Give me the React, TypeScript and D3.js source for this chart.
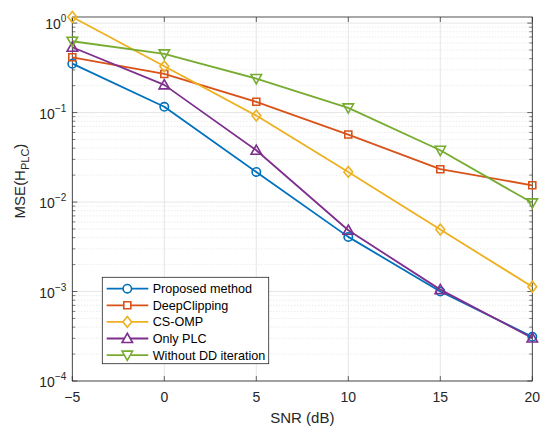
import React, { useEffect, useRef } from 'react';
import * as d3 from 'd3';

const snr = [-5, 0, 5, 10, 15, 20];
const proposed = [0.352, 0.116, 0.0217, 0.00408, 0.00100, 0.000312];
const deepClipping = [0.415, 0.27, 0.132, 0.0568, 0.0233, 0.0154];
const csOmp = [1.17, 0.329, 0.0925, 0.0217, 0.00493, 0.00113];
const onlyPlc = [0.537, 0.204, 0.0379, 0.00484, 0.00105, 0.000302];
const withoutDD = [0.627, 0.453, 0.24, 0.113, 0.0379, 0.0098];

const seriesNames = ['Proposed method', 'DeepClipping', 'CS-OMP', 'Only PLC', 'Without DD iteration'];
const seriesValues = [proposed, deepClipping, csOmp, onlyPlc, withoutDD];
const seriesColors = ['#0072BD', '#D95319', '#EDB120', '#7E2F8E', '#77AC30'];
const seriesMarkers = ['circle', 'square', 'diamond', 'triUp', 'triDown'];

const xTicks = [-5, 0, 5, 10, 15, 20];
const yDecades = [-4, -3, -2, -1, 0];

const FONT = 'Liberation Sans, Arial, Helvetica, sans-serif';

function markerPath(kind: string, s: number): string {
  switch (kind) {
    case 'circle':
      return `M${s},0A${s},${s} 0 1,1 ${-s},0A${s},${s} 0 1,1 ${s},0Z`;
    case 'square':
      return `M${-s},${-s}H${s}V${s}H${-s}Z`;
    case 'diamond':
      return `M0,${-s * 1.35}L${s * 1.1},0L0,${s * 1.35}L${-s * 1.1},0Z`;
    case 'triUp':
      return `M0,${-s * 1.25}L${s * 1.25},${s * 0.95}L${-s * 1.25},${s * 0.95}Z`;
    default:
      return `M0,${s * 1.25}L${s * 1.25},${-s * 0.95}L${-s * 1.25},${-s * 0.95}Z`;
  }
}

const markerSize: Record<string, number> = { circle: 4.2, square: 3.5, diamond: 4, triUp: 4.2, triDown: 4.2 };

const App: React.FC = () => {
  const svgRef = useRef<SVGSVGElement>(null);

  useEffect(() => {
    document.body.style.margin = '0';
    if (!svgRef.current) return;
    const svg = d3.select(svgRef.current);
    svg.selectAll('*').remove();

    const left = 72.3, right = 532.3, top = 17, bottom = 381;
    const width = right - left;
    const height = bottom - top;

    const x = d3.scaleLinear().domain([-5, 20]).range([0, width]);
    const y = d3.scaleLog().domain([1e-4, 1.17]).range([height, 0]);

    const g = svg.append('g').attr('transform', `translate(${left},${top})`);

    g.append('rect').attr('width', width).attr('height', height).attr('fill', '#fff');

    // minor grid (dotted)
    const minors: number[] = [];
    yDecades.forEach(d => {
      for (let k = 2; k <= 9; k++) {
        const v = k * Math.pow(10, d);
        if (v <= 1.17) minors.push(v);
      }
    });
    g.selectAll('.minor-grid')
      .data(minors)
      .enter()
      .append('line')
      .attr('x1', 0)
      .attr('x2', width)
      .attr('y1', d => y(d))
      .attr('y2', d => y(d))
      .attr('stroke', '#d0d0d0')
      .attr('stroke-width', 0.6)
      .attr('stroke-dasharray', '1,2');

    // major grid
    g.selectAll('.grid-y')
      .data(yDecades.map(d => Math.pow(10, d)))
      .enter()
      .append('line')
      .attr('x1', 0)
      .attr('x2', width)
      .attr('y1', d => y(d))
      .attr('y2', d => y(d))
      .attr('stroke', '#e0e0e0')
      .attr('stroke-width', 0.8);

    g.selectAll('.grid-x')
      .data(xTicks)
      .enter()
      .append('line')
      .attr('x1', d => x(d))
      .attr('x2', d => x(d))
      .attr('y1', 0)
      .attr('y2', height)
      .attr('stroke', '#e0e0e0')
      .attr('stroke-width', 0.8);

    // ticks (inside, all four sides)
    const axisColor = '#262626';
    xTicks.forEach(t => {
      g.append('line').attr('x1', x(t)).attr('x2', x(t)).attr('y1', height).attr('y2', height - 5)
        .attr('stroke', axisColor).attr('stroke-width', 0.7);
      g.append('line').attr('x1', x(t)).attr('x2', x(t)).attr('y1', 0).attr('y2', 5)
        .attr('stroke', axisColor).attr('stroke-width', 0.7);
    });
    yDecades.forEach(d => {
      const yy = y(Math.pow(10, d));
      g.append('line').attr('x1', 0).attr('x2', 5).attr('y1', yy).attr('y2', yy)
        .attr('stroke', axisColor).attr('stroke-width', 0.7);
      g.append('line').attr('x1', width).attr('x2', width - 5).attr('y1', yy).attr('y2', yy)
        .attr('stroke', axisColor).attr('stroke-width', 0.7);
    });
    minors.forEach(v => {
      const yy = y(v);
      g.append('line').attr('x1', 0).attr('x2', 3).attr('y1', yy).attr('y2', yy)
        .attr('stroke', axisColor).attr('stroke-width', 0.6);
      g.append('line').attr('x1', width).attr('x2', width - 3).attr('y1', yy).attr('y2', yy)
        .attr('stroke', axisColor).attr('stroke-width', 0.6);
    });

    // box
    g.append('rect').attr('width', width).attr('height', height)
      .attr('fill', 'none').attr('stroke', axisColor).attr('stroke-width', 0.8);

    // x tick labels
    g.selectAll('.xlab')
      .data(xTicks)
      .enter()
      .append('text')
      .attr('x', d => x(d))
      .attr('y', height + 21)
      .attr('text-anchor', 'middle')
      .attr('font-family', FONT)
      .attr('font-size', 14)
      .attr('fill', axisColor)
      .text(d => (d < 0 ? `\u2212${Math.abs(d)}` : `${d}`));

    // y tick labels 10^n
    yDecades.forEach(d => {
      const t = g.append('text')
        .attr('x', -6)
        .attr('y', y(Math.pow(10, d)) + 6)
        .attr('text-anchor', 'end')
        .attr('font-family', FONT)
        .attr('font-size', 14)
        .attr('fill', axisColor);
      t.append('tspan').text('10');
      t.append('tspan').attr('dy', -7).attr('font-size', 10)
        .text(d < 0 ? `\u2212${Math.abs(d)}` : `${d}`);
    });

    // axis titles
    svg.append('text')
      .attr('x', left + width / 2)
      .attr('y', 423)
      .attr('text-anchor', 'middle')
      .attr('font-family', FONT)
      .attr('font-size', 15)
      .attr('fill', axisColor)
      .text('SNR (dB)');

    const yl = svg.append('text')
      .attr('transform', 'translate(25,181) rotate(-90)')
      .attr('text-anchor', 'middle')
      .attr('font-family', FONT)
      .attr('font-size', 15)
      .attr('fill', axisColor);
    yl.append('tspan').text('MSE(H');
    yl.append('tspan').attr('dy', 4).attr('font-size', 11).text('PLC');
    yl.append('tspan').attr('dy', -4).text(')');

    // series
    const line = d3.line<number>()
      .x((_, i) => x(snr[i]))
      .y(d => y(d));

    seriesValues.forEach((vals, si) => {
      g.append('path')
        .datum(vals)
        .attr('fill', 'none')
        .attr('stroke', seriesColors[si])
        .attr('stroke-width', 1.8)
        .attr('stroke-linejoin', 'round')
        .attr('d', line);
    });
    seriesValues.forEach((vals, si) => {
      const kind = seriesMarkers[si];
      g.selectAll(`.mk-${si}`)
        .data(vals)
        .enter()
        .append('path')
        .attr('transform', (d, i) => `translate(${x(snr[i])},${y(d)})`)
        .attr('d', markerPath(kind, markerSize[kind]))
        .attr('fill', 'none')
        .attr('stroke', seriesColors[si])
        .attr('stroke-width', 1.6);
    });

    // legend
    const lg = svg.append('g').attr('transform', 'translate(102.3,277.3)');
    lg.append('rect')
      .attr('width', 166.4)
      .attr('height', 86.4)
      .attr('fill', '#fff')
      .attr('stroke', axisColor)
      .attr('stroke-width', 0.8);
    seriesNames.forEach((name, si) => {
      const ry = 11.4 + si * 16.6;
      const kind = seriesMarkers[si];
      lg.append('line')
        .attr('x1', 4.4).attr('x2', 46)
        .attr('y1', ry).attr('y2', ry)
        .attr('stroke', seriesColors[si])
        .attr('stroke-width', 1.8);
      lg.append('path')
        .attr('transform', `translate(25,${ry})`)
        .attr('d', markerPath(kind, markerSize[kind]))
        .attr('fill', '#fff')
        .attr('stroke', seriesColors[si])
        .attr('stroke-width', 1.6);
      lg.append('text')
        .attr('x', 50.4)
        .attr('y', ry + 4.5)
        .attr('font-family', FONT)
        .attr('font-size', 12.6)
        .attr('fill', '#000')
        .text(name);
    });
  }, []);

  return <svg ref={svgRef} width={550} height={436} style={{ display: 'block' }}></svg>;
};

export default App;
